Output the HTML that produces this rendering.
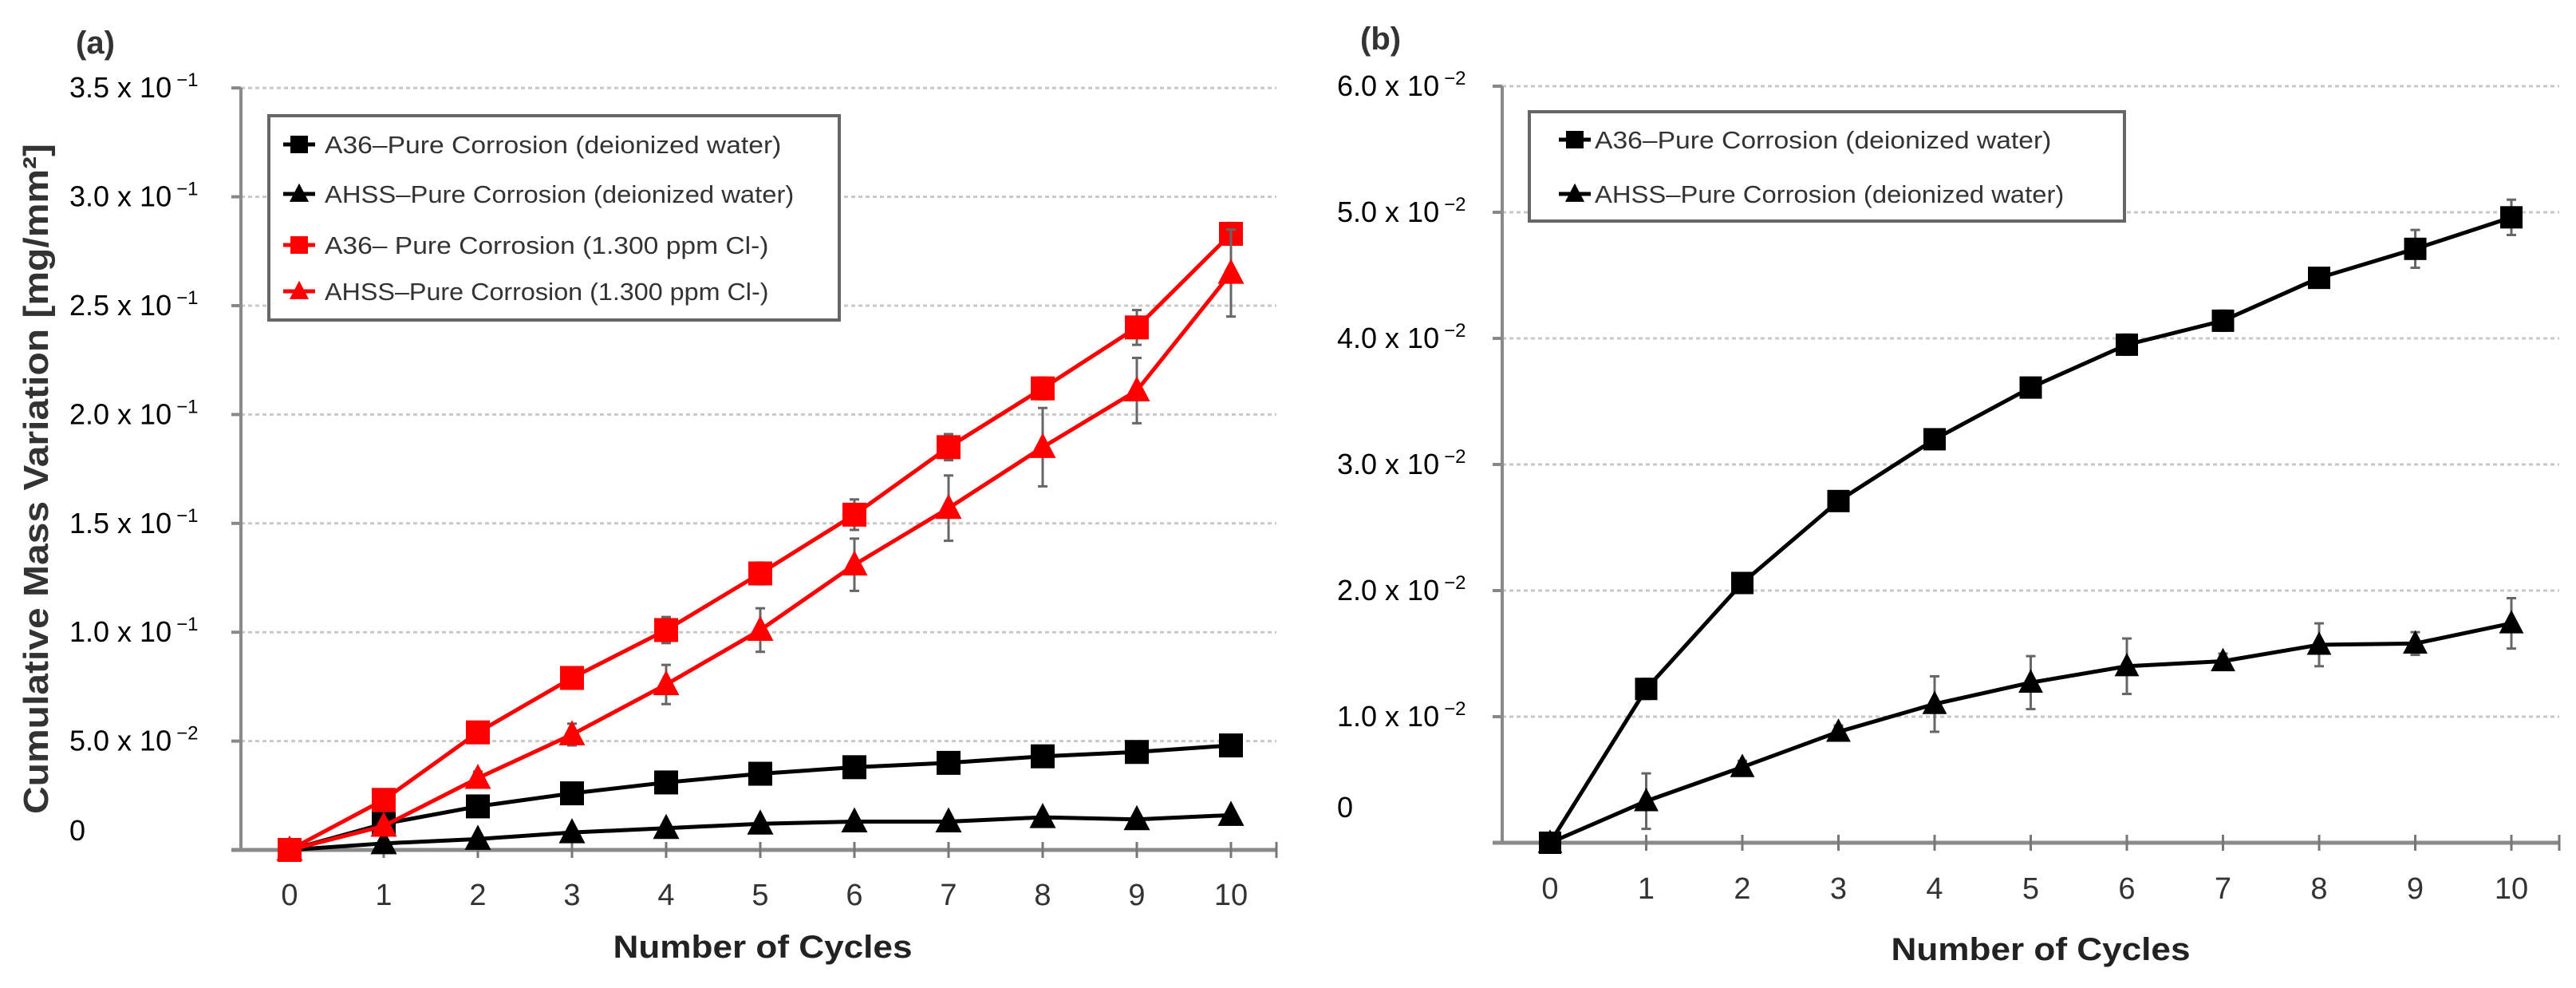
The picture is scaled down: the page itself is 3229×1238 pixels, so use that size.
<!DOCTYPE html>
<html><head><meta charset="utf-8">
<style>
html,body{margin:0;padding:0;background:#fff;}
svg{display:block;}
text{font-family:"Liberation Sans",sans-serif;}
</style></head>
<body>
<svg id="fig" width="3229" height="1238" viewBox="0 0 3229 1238" xmlns="http://www.w3.org/2000/svg">
<rect width="3229" height="1238" fill="#fff"/>
</svg>
<script>
// ---- Panel (a) data ----
const cyclesA = [0,1,2,3,4,5,6,7,8,9,10];
const a36DiA  = [0,0.012,0.020,0.026,0.031,0.035,0.038,0.040,0.043,0.045,0.048];
const ahssDiA = [0,0.003,0.005,0.008,0.010,0.012,0.013,0.013,0.015,0.014,0.016];
const a36ClA  = [0,0.023,0.054,0.079,0.101,0.127,0.154,0.185,0.212,0.240,0.283];
const ahssClA = [0,0.011,0.033,0.053,0.076,0.101,0.131,0.157,0.185,0.211,0.265];
const a36ClErrA  = [0,0.002,0.003,0.003,0.006,0.005,0.007,0.006,0.005,0.008,0.005];
const ahssClErrA = [0,0.002,0.003,0.005,0.009,0.010,0.012,0.015,0.018,0.015,0.020];
const yTicksA = [0,0.05,0.10,0.15,0.20,0.25,0.30,0.35];
const yLabelsA = ["0","5.0 x 10","1.0 x 10","1.5 x 10","2.0 x 10","2.5 x 10","3.0 x 10","3.5 x 10"];
const yExpA = ["","\u22122","\u22121","\u22121","\u22121","\u22121","\u22121","\u22121"];
const legendA = ["A36\u2013Pure Corrosion (deionized water)","AHSS\u2013Pure Corrosion (deionized water)","A36\u2013 Pure Corrosion (1.300 ppm Cl-)","AHSS\u2013Pure Corrosion (1.300 ppm Cl-)"];
// ---- Panel (b) data ----
const cyclesB = [0,1,2,3,4,5,6,7,8,9,10];
const a36B  = [0,0.0122,0.0206,0.0271,0.0320,0.0361,0.0395,0.0414,0.0448,0.0471,0.0496];
const ahssB = [0,0.0033,0.0060,0.0088,0.0110,0.0127,0.0140,0.0144,0.0157,0.0158,0.0174];
const a36ErrB  = [0,0.0008,0.0005,0.0005,0.0006,0.0005,0.0008,0.0008,0.0006,0.0015,0.0014];
const ahssErrB = [0,0.0022,0.0005,0.0005,0.0022,0.0021,0.0022,0.0006,0.0017,0.0009,0.0020];
const yTicksB = [0,0.01,0.02,0.03,0.04,0.05,0.06];
const yLabelsB = ["0","1.0 x 10","2.0 x 10","3.0 x 10","4.0 x 10","5.0 x 10","6.0 x 10"];
const yExpB = ["","\u22122","\u22122","\u22122","\u22122","\u22122","\u22122"];
const legendB = ["A36\u2013Pure Corrosion (deionized water)","AHSS\u2013Pure Corrosion (deionized water)"];

const NS="http://www.w3.org/2000/svg";
const svg=document.getElementById('fig');
function mk(tag,attrs,parent,txt){const e=document.createElementNS(NS,tag);for(const k in attrs)e.setAttribute(k,attrs[k]);if(txt!==undefined)e.textContent=txt;(parent||svg).appendChild(e);return e;}

function marker(g,shape,x,y,s,color){
  let m;
  if(shape==='sq'){m=mk('rect',{x:x-s/2,y:y-s/2,width:s,height:s,fill:color},g);}
  else{m=mk('polygon',{points:`${x},${y-s*0.6} ${x+s*0.55},${y+s*0.45} ${x-s*0.55},${y+s*0.45}`,fill:color},g);}
  return m;
}

function panel(cfg){
  const P=mk('g',{});
  
  
  const X=c=>cfg.x0+c*cfg.dx;
  const Y=v=>cfg.y0-v*cfg.dy;
  // gridlines & y labels
  cfg.yTicks.forEach((t,i)=>{
    if(t>0){const gl=mk('line',{x1:cfg.axX,x2:cfg.xEnd,y1:Y(t),y2:Y(t),stroke:'#c8c8c8','stroke-width':3,'stroke-dasharray':'5 4'},P);
      
      mk('line',{x1:cfg.axX-12,x2:cfg.axX,y1:Y(t),y2:Y(t),stroke:'#888','stroke-width':4},P);}
    const lab=mk('text',{x:cfg.labX,y:(t===0?cfg.zeroY:Y(t)+12),'font-size':36,fill:'#000'},P);
    
    const s1=mk('tspan',{},lab,cfg.yLabels[i]);
    if(cfg.yExp[i]){mk('tspan',{dy:-14,'font-size':24,dx:6},lab,cfg.yExp[i]);}
  });
  // axes
  const ya=mk('line',{x1:cfg.axX,x2:cfg.axX,y1:cfg.yTop,y2:cfg.y0,stroke:'#8a8a8a','stroke-width':4},P);
  
  const xa=mk('line',{x1:cfg.axX-12,x2:cfg.xEnd,y1:cfg.y0,y2:cfg.y0,stroke:'#8a8a8a','stroke-width':5},P);
  
  cfg.cycles.forEach(c=>{
    mk('line',{x1:X(c),x2:X(c),y1:cfg.y0-10,y2:cfg.y0+10,stroke:'#777','stroke-width':3},P);
    const t=mk('text',{x:X(c),y:cfg.xLabY,'font-size':38,'text-anchor':'middle',fill:'#333'},P,String(c));
    
  });
  mk('line',{x1:cfg.xEnd,x2:cfg.xEnd,y1:cfg.y0-10,y2:cfg.y0+10,stroke:'#777','stroke-width':3},P);
  // series
  cfg.series.forEach(s=>{
    const g=mk('g',{},P);
    
    if(s.err){s.vals.forEach((v,i)=>{if(s.err[i]>0){
      const x=X(cfg.cycles[i]);
      mk('line',{x1:x,x2:x,y1:Y(v+s.err[i]),y2:Y(v-s.err[i]),stroke:'#666','stroke-width':3},g);
      mk('line',{x1:x-6,x2:x+6,y1:Y(v+s.err[i]),y2:Y(v+s.err[i]),stroke:'#666','stroke-width':3},g);
      mk('line',{x1:x-6,x2:x+6,y1:Y(v-s.err[i]),y2:Y(v-s.err[i]),stroke:'#666','stroke-width':3},g);}});}
    const pts=s.vals.map((v,i)=>X(cfg.cycles[i])+','+Y(v)).join(' ');
    const pl=mk('polyline',{points:pts,fill:'none',stroke:s.color,'stroke-width':5},g);
    
    s.vals.forEach((v,i)=>{
      const m=marker(g,s.shape,X(cfg.cycles[i]),Y(v),cfg.ms,s.color);
      
    });
  });
  // legend
  const L=mk('g',{},P);
  
  mk('rect',{x:cfg.leg.x,y:cfg.leg.y,width:cfg.leg.w,height:cfg.leg.h,fill:'#fff',stroke:'#666','stroke-width':4},L);
  cfg.leg.items.forEach((it,i)=>{
    const e=mk('g',{},L);
    
    const cy=cfg.leg.rows[i];
    mk('line',{x1:cfg.leg.mx-20,x2:cfg.leg.mx+20,y1:cy,y2:cy,stroke:cfg.series[i].color,'stroke-width':5},e);
    marker(e,cfg.series[i].shape,cfg.leg.mx,cy,22,cfg.series[i].color);
    mk('text',{x:cfg.leg.tx,y:cy+11,'font-size':31,fill:'#333',textLength:it.length*15.9,lengthAdjust:'spacingAndGlyphs'},e,it);
  });
  // titles
  const xt=mk('text',{x:cfg.xTitleX,y:cfg.xTitleY,'font-size':40,'font-weight':'bold','text-anchor':'middle',fill:'#222',textLength:375,lengthAdjust:'spacingAndGlyphs'},P,'Number of Cycles');
  
  const pt=mk('text',{x:cfg.tagX,y:cfg.tagY,'font-size':40,'font-weight':'bold',fill:'#333'},P,cfg.tag);
  
}

panel({name:'panel-a',x0:363,dx:118,y0:1065,dy:136.4/0.05,axX:302,yTop:110,xEnd:1600,labX:87,zeroY:1053,
  yTicks:yTicksA,yLabels:yLabelsA,yExp:yExpA,cycles:cyclesA,xLabY:1134,ms:30,
  series:[{name:'a36-deionized',vals:a36DiA,color:'#000',shape:'sq'},
          {name:'ahss-deionized',vals:ahssDiA,color:'#000',shape:'tri'},
          {name:'a36-chloride',vals:a36ClA,err:a36ClErrA,color:'#f00',shape:'sq'},
          {name:'ahss-chloride',vals:ahssClA,err:ahssClErrA,color:'#f00',shape:'tri'}],
  leg:{x:337,y:145,w:715,h:256,rows:[181,243,307,365],mx:375,tx:407,items:legendA},
  xTitleX:956,xTitleY:1200,tag:'(a)',tagX:95,tagY:67});
panel({name:'panel-b',x0:1943,dx:120.5,y0:1056,dy:158/0.01,axX:1883,yTop:108,xEnd:3208,labX:1676,zeroY:1024,
  yTicks:yTicksB,yLabels:yLabelsB,yExp:yExpB,cycles:cyclesB,xLabY:1126,ms:28,
  series:[{name:'a36-deionized',vals:a36B,err:a36ErrB,color:'#000',shape:'sq'},
          {name:'ahss-deionized',vals:ahssB,err:ahssErrB,color:'#000',shape:'tri'}],
  leg:{x:1917,y:140,w:746,h:137,rows:[175,243],mx:1974,tx:1999,items:legendB},
  xTitleX:2558,xTitleY:1203,tag:'(b)',tagX:1705,tagY:62});

const yt=mk('text',{x:0,y:0,'font-size':44,'font-weight':'bold','text-anchor':'middle',fill:'#333',transform:'translate(60,600) rotate(-90)',textLength:840,lengthAdjust:'spacingAndGlyphs'},svg,'Cumulative Mass Variation [mg/mm\u00b2]');


</script>
</body></html>
